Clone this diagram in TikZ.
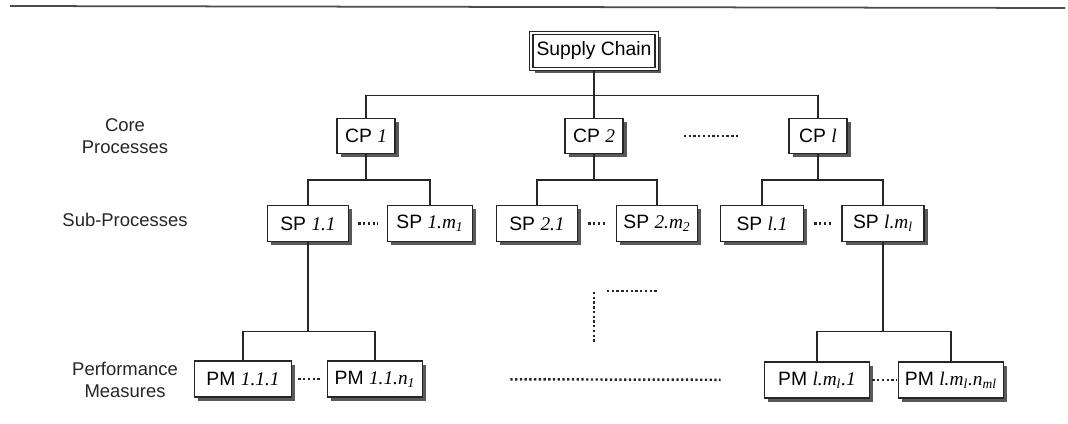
\documentclass[tikz,border=0pt]{standalone}
\usepackage{fontspec}
\setmainfont{Liberation Sans}
\newfontfamily\tnr{Liberation Serif}
\usepackage{tikz}
\usetikzlibrary{shadows}
\newcommand{\ix}[1]{{\tnr\itshape #1}}
\newcommand{\sub}[1]{\textsubscript{#1}}

\tikzset{
  box/.style={draw=black!85, fill=white, line width=0.9pt, minimum height=0.72cm, inner sep=3pt,
    drop shadow={shadow xshift=2.2pt, shadow yshift=-2.2pt, fill=black!65, opacity=1},
    font=\fontsize{11}{13}\selectfont},
  lbl/.style={align=center, text=black!85, font=\fontsize{10.5}{12.5}\selectfont},
  link/.style={draw=black!85, line width=0.9pt},
  dots/.style={draw=black!85, line width=1.4pt, dash pattern=on 1.3pt off 1.4pt}
}

\begin{document}
\begin{tikzpicture}[x=0.02cm, y=-0.02cm]
    \useasboundingbox (0,0) rectangle (1068,423);
    \draw[line width=1pt, black!70] (10,6) -- (1065,8);

    % root
    \node[box, double, double distance=1.2pt, line width=0.8pt, minimum width=2.3cm] (sc) at (594,51) {Supply Chain};

    % level labels
    \node[lbl] (core) at (125,136) {Core\\Processes};
    \node[lbl] (subp) at (125,220) {Sub-Processes};
    \node[lbl] (perf) at (125,380) {Performance\\Measures};

    % core processes
    \node[box, minimum width=1.16cm, minimum height=0.7cm] (cp1) at (366,136) {CP \ix{1}};
    \node[box, minimum width=1.16cm, minimum height=0.7cm] (cp2) at (594,136) {CP \ix{2}};
    \node[box, minimum width=1.16cm, minimum height=0.7cm] (cpl) at (818,136) {CP \ix{l}};

    % sub-processes
    \node[box, minimum width=1.62cm] (sp11) at (308,223.5) {SP \ix{1.1}};
    \node[box, minimum width=1.7cm] (sp1m) at (430,223.5) {SP \ix{1.m\sub{1}}};
    \node[box, minimum width=1.62cm] (sp21) at (537,223.5) {SP \ix{2.1}};
    \node[box, minimum width=1.62cm] (sp2m) at (657,223.5) {SP \ix{2.m\sub{2}}};
    \node[box, minimum width=1.66cm] (spl1) at (762,223.5) {SP \ix{l.1}};
    \node[box, minimum width=1.64cm] (splm) at (883,223.5) {SP \ix{l.m\sub{l}}};

    % performance measures
    \node[box, minimum width=1.94cm] (pm111) at (243,379) {PM \ix{1.1.1}};
    \node[box, minimum width=1.9cm] (pm11n) at (375,379) {PM \ix{1.1.n\sub{1}}};
    \node[box, minimum width=2.1cm] (pml1) at (817,380) {PM \ix{l.m\sub{l}.1}};
    \node[box, minimum width=2.1cm] (pmln) at (951,380) {PM \ix{l.m\sub{l}.n\sub{ml}}};

    % tree links
    \foreach \c in {cp1,cp2,cpl}
        \draw[link] (sc.south) -- ++(0,26) -| (\c.north);
    \foreach \p/\a/\b in {cp1/sp11/sp1m, cp2/sp21/sp2m, cpl/spl1/splm} {
        \draw[link] (\p.south) -- ++(0,25.5) -| (\a.north);
        \draw[link] (\p.south) -- ++(0,25.5) -| (\b.north);
    }
    \draw[link] (sp11.south) -- ++(0,89) -| (pm111.north);
    \draw[link] (sp11.south) -- ++(0,89) -| (pm11n.north);
    \draw[link] (splm.south) -- ++(0,89) -| (pml1.north);
    \draw[link] (splm.south) -- ++(0,89) -| (pmln.north);

    % ellipses
    \draw[dots, shorten <=1.2cm, shorten >=1cm] (cp2) -- (cpl);
    \draw[dots, shorten <=0.18cm, shorten >=0.18cm] (sp11) -- (sp1m);
    \draw[dots, shorten <=0.2cm, shorten >=0.2cm] (sp21) -- (sp2m);
    \draw[dots, shorten <=0.2cm, shorten >=0.2cm] (spl1) -- (splm);
    \draw[dots, shorten <=0.12cm, shorten >=0.1cm] (pm111) -- (pm11n);
    \draw[dots, shorten <=0.04cm, shorten >=0.02cm] (pml1) -- (pmln);
    \draw[dots, shorten <=1.74cm, shorten >=0.86cm] (pm11n) -- (pml1);
    \draw[dots] (594,292) -- (594,343);
    \draw[dots] (607,291) -- (657,291);
\end{tikzpicture}
\end{document}
